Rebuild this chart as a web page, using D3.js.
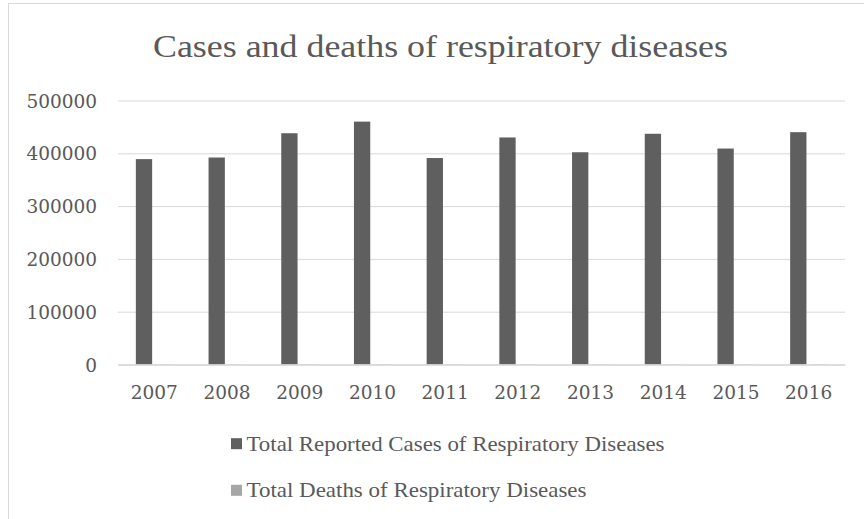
<!DOCTYPE html>
<html>
<head>
<meta charset="utf-8">
<script src="https://cdn.jsdelivr.net/npm/d3@7/dist/d3.min.js"></script>
<style>
  html, body { margin: 0; padding: 0; background: #ffffff; }
  svg { display: block; }
</style>
</head>
<body>
<script>
// Yearly figures for respiratory diseases
const years = ["2007", "2008", "2009", "2010", "2011", "2012", "2013", "2014", "2015", "2016"];
const reportedCases = [389000, 392000, 438000, 460000, 391000, 430000, 402000, 437000, 409000, 440000];
const reportedDeaths = [520, 490, 610, 640, 470, 560, 500, 580, 530, 590];
const seriesNames = ["Total Reported Cases of Respiratory Diseases", "Total Deaths of Respiratory Diseases"];
const seriesColors = ["#5f5f5f", "#a6a6a6"];
const yTicks = [0, 100000, 200000, 300000, 400000, 500000];
const chartTitle = "Cases and deaths of respiratory diseases";

const W = 864, H = 519;
const textColor = "#595959";
const gridColor = "#d9d9d9";
const textFont = "'Liberation Serif', 'Times New Roman', serif";
const numFont = "'DejaVu Serif', serif";

const svg = d3.select("body").append("svg")
  .attr("width", W).attr("height", H);

// chart area frame
svg.append("rect")
  .attr("x", 8.5).attr("y", 3.5)
  .attr("width", W + 20).attr("height", H + 20)
  .attr("fill", "#ffffff")
  .attr("stroke", gridColor).attr("stroke-width", 1);

const plot = { left: 118, right: 845, top: 100.5, bottom: 364.5 };

const x0 = d3.scaleBand().domain(years).range([plot.left, plot.right]).paddingInner(0).paddingOuter(0);
// clustered bars: gap width 219%, overlap -27%
const gap = 2.19, overlap = -0.27;
const x1 = d3.scaleBand().domain([0, 1]).range([0, x0.bandwidth()])
  .paddingInner(-overlap / (1 - overlap))
  .paddingOuter((gap / 2) / (1 - overlap));
const y = d3.scaleLinear().domain([0, 500000]).range([plot.bottom, plot.top]);

// gridlines
const yAxis = d3.axisLeft(y).tickValues(yTicks).tickSize(0).tickPadding(0);
const gy = svg.append("g").attr("transform", `translate(${plot.left},0)`).call(yAxis);
gy.select(".domain").remove();
gy.selectAll(".tick line")
  .attr("x1", 0).attr("x2", plot.right - plot.left)
  .attr("stroke", gridColor).attr("stroke-width", 1);
gy.selectAll(".tick text")
  .attr("x", 97 - plot.left)
  .attr("dy", "0.36em")
  .attr("fill", textColor)
  .style("font-family", numFont)
  .style("font-size", "18.5px")
  .text(d => String(d));

// bars
const data = years.map((yr, i) => ({ year: yr, values: [reportedCases[i], reportedDeaths[i]] }));
const groups = svg.append("g").selectAll("g").data(data).join("g")
  .attr("transform", d => `translate(${x0(d.year)},0)`);
groups.selectAll("rect").data(d => d.values.map((v, k) => ({ k, v }))).join("rect")
  .attr("x", d => x1(d.k))
  .attr("width", x1.bandwidth())
  .attr("y", d => y(d.v))
  .attr("height", d => y(0) - y(d.v))
  .attr("fill", d => seriesColors[d.k]);

// category axis
const xAxis = d3.axisBottom(x0).tickSize(0).tickPadding(0);
const gx = svg.append("g").attr("transform", `translate(0,${plot.bottom})`).call(xAxis);
gx.select(".domain").attr("stroke", gridColor).attr("stroke-width", 1.3);
gx.selectAll(".tick text")
  .attr("y", 34.5).attr("dy", 0)
  .attr("fill", textColor)
  .style("font-family", numFont)
  .style("font-size", "18.5px");

// title
svg.append("text")
  .attr("x", 440.5).attr("y", 57)
  .attr("text-anchor", "middle")
  .attr("fill", textColor)
  .attr("textLength", 575).attr("lengthAdjust", "spacingAndGlyphs")
  .style("font-family", textFont)
  .style("font-size", "31.5px")
  .text(chartTitle);

// legend
const legendRows = [
  { y: 450.7, len: 418 },
  { y: 497.3, len: 340 }
];
const legend = svg.append("g");
legendRows.forEach((row, i) => {
  legend.append("rect")
    .attr("x", 231).attr("y", row.y - 12.5)
    .attr("width", 11).attr("height", 11)
    .attr("fill", seriesColors[i]);
  legend.append("text")
    .attr("x", 246.5).attr("y", row.y)
    .attr("fill", textColor)
    .attr("textLength", row.len).attr("lengthAdjust", "spacingAndGlyphs")
    .style("font-family", textFont)
    .style("font-size", "21px")
    .text(seriesNames[i]);
});
</script>
</body>
</html>
